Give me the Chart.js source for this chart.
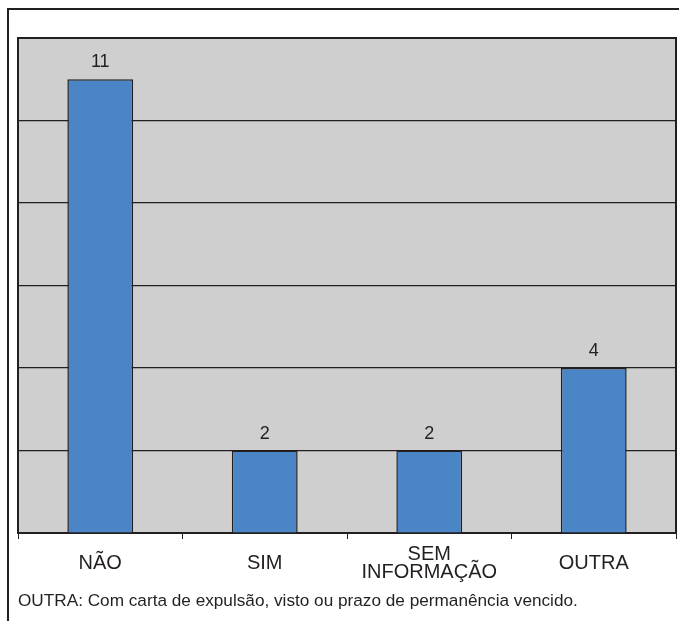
<!DOCTYPE html>
<html>
<head>
<meta charset="utf-8">
<script src="https://cdn.jsdelivr.net/npm/chart.js@4/dist/chart.umd.min.js"></script>
<style>
  html, body { margin: 0; padding: 0; background: #fff; }
  #wrap { width: 679px; height: 621px; position: relative; }
</style>
</head>
<body>
<div id="wrap"><canvas id="c"></canvas></div>
<script>
// categories and counts
const categories = ['NÃO', 'SIM', ['SEM', 'INFORMAÇÃO'], 'OUTRA']
const counts = [11, 2, 2, 4]
const yTicks = [0, 2, 4, 6, 8, 10, 12]
const note = 'OUTRA: Com carta de expulsão, visto ou prazo de permanência vencido.'

const font = 'Liberation Sans, Arial, sans-serif'

// frame, gray plot background, value labels and footnote
const decor = {
  id: 'decor',
  beforeDraw(chart) {
    const { ctx, chartArea: a } = chart
    ctx.save()
    ctx.fillStyle = '#fff'
    ctx.fillRect(0, 0, chart.width, chart.height)
    ctx.strokeStyle = '#231f20'
    ctx.lineWidth = 2
    ctx.beginPath()
    ctx.moveTo(8, chart.height)
    ctx.lineTo(8, 9)
    ctx.lineTo(chart.width, 9)
    ctx.stroke()
    ctx.fillStyle = '#cfcfcf'
    ctx.fillRect(a.left, a.top, a.right - a.left, a.bottom - a.top)
    ctx.restore()
  },
  afterDraw(chart) {
    const { ctx, chartArea: a } = chart
    ctx.save()
    ctx.strokeStyle = '#231f20'
    ctx.lineWidth = 2
    ctx.beginPath()
    ctx.moveTo(a.left, a.bottom)
    ctx.lineTo(a.left, a.top)
    ctx.lineTo(a.right, a.top)
    ctx.lineTo(a.right, a.bottom)
    ctx.stroke()
    ctx.fillStyle = '#231f20'
    ctx.font = '18px ' + font
    ctx.textAlign = 'center'
    ctx.textBaseline = 'alphabetic'
    chart.getDatasetMeta(0).data.forEach((bar, i) => {
      ctx.fillText(String(counts[i]), bar.x, bar.y - 12)
    })
    ctx.textAlign = 'left'
    ctx.textBaseline = 'middle'
    ctx.font = '17.2px ' + font
    ctx.fillText(note, 18, 601)
    ctx.restore()
  }
}

new Chart(document.getElementById('c'), {
  type: 'bar',
  data: {
    labels: categories,
    datasets: [{
      data: counts,
      backgroundColor: '#4a86c5',
      borderColor: '#231f20',
      borderWidth: 1.5,
      categoryPercentage: 1,
      barPercentage: 0.4
    }]
  },
  options: {
    responsive: true,
    maintainAspectRatio: false,
    animation: false,
    layout: { padding: { left: 18, right: 3, top: 38, bottom: 16 } },
    plugins: { legend: { display: false }, tooltip: { enabled: false } },
    scales: {
      x: {
        grid: { offset: true, drawOnChartArea: false, color: '#231f20', tickLength: 6 },
        border: { color: '#231f20', width: 2 },
        ticks: {
          color: '#231f20',
          font: { family: font, size: 20, lineHeight: 0.9 },
          padding: 15,
          maxRotation: 0,
          crossAlign: 'center'
        }
      },
      y: {
        min: 0,
        max: 12,
        afterBuildTicks: (axis) => { axis.ticks = yTicks.map(v => ({ value: v })) },
        grid: { color: '#231f20', lineWidth: 1.2, drawTicks: false },
        border: { display: false },
        ticks: { display: false }
      }
    }
  },
  plugins: [decor]
})
</script>
</body>
</html>
